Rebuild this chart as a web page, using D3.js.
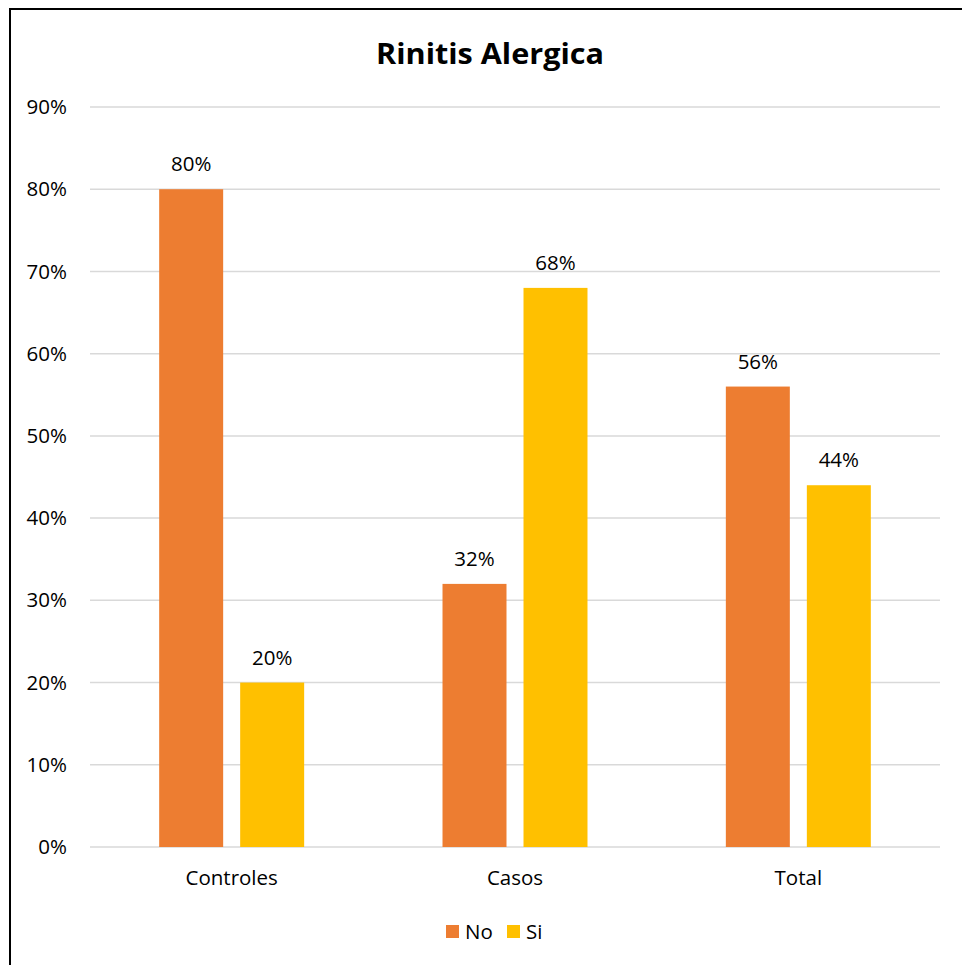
<!DOCTYPE html>
<html>
<head>
<meta charset="utf-8">
<script src="https://cdn.jsdelivr.net/npm/d3@7"></script>
<style>
  html, body { margin: 0; padding: 0; background: #fff; }
  svg { display: block; font-family: "Open Sans", sans-serif; }
</style>
</head>
<body>
<script>
// Rinitis alérgica: proporción No / Si por grupo
const categories = ["Controles", "Casos", "Total"];
const seriesNames = ["No", "Si"];
const noValues = [0.80, 0.32, 0.56];
const siValues = [0.20, 0.68, 0.44];
const yTicks = [0, 0.1, 0.2, 0.3, 0.4, 0.5, 0.6, 0.7, 0.8, 0.9];
const colors = ["#ED7D31", "#FFC000"];

const W = 962, H = 965;
const FONT = "'Open Sans', sans-serif";
const FS = 20.5;
const svg = d3.select("body").append("svg").attr("width", W).attr("height", H);

// outer chart frame
svg.append("rect")
  .attr("x", 10).attr("y", 9).attr("width", W + 20).attr("height", H + 20)
  .attr("fill", "#fff").attr("stroke", "#000").attr("stroke-width", 2);

const plot = { left: 90, right: 940, top: 107, bottom: 847 };

const x = d3.scaleBand().domain(categories).range([plot.left, plot.right]);
const x1 = d3.scaleBand().domain(seriesNames).range([0, x.bandwidth()])
  .paddingInner(0.21).paddingOuter(0.854);
const y = d3.scaleLinear().domain([0, 0.9]).range([plot.bottom, plot.top]);

// gridlines
svg.append("g").selectAll("line").data(yTicks).join("line")
  .attr("x1", plot.left).attr("x2", plot.right)
  .attr("y1", d => y(d)).attr("y2", d => y(d))
  .attr("stroke", "#D9D9D9").attr("stroke-width", 1.5);

// y axis labels
const yAxis = d3.axisLeft(y).tickValues(yTicks).tickFormat(d3.format(".0%")).tickSize(0).tickPadding(0);
const gy = svg.append("g").attr("transform", `translate(67,0)`).call(yAxis);
gy.select(".domain").remove();
gy.selectAll("text").attr("font-size", FS).attr("fill", "#000").attr("font-family", FONT);

// x axis labels
const xAxis = d3.axisBottom(x).tickSize(0).tickPadding(0);
const gx = svg.append("g").attr("transform", `translate(0,${plot.bottom + 23})`).call(xAxis);
gx.select(".domain").remove();
gx.selectAll("text").attr("font-size", FS).attr("fill", "#000").attr("font-family", FONT);

const rows = categories.map((c, i) => ({ cat: c, values: [noValues[i], siValues[i]] }));

const groups = svg.append("g").selectAll("g").data(rows).join("g")
  .attr("transform", d => `translate(${x(d.cat)},0)`);

groups.selectAll("rect").data(d => d.values.map((v, j) => ({ key: seriesNames[j], v, j })))
  .join("rect")
  .attr("x", d => x1(d.key))
  .attr("width", x1.bandwidth())
  .attr("y", d => y(d.v))
  .attr("height", d => y(0) - y(d.v))
  .attr("fill", d => colors[d.j]);

groups.selectAll("text.val").data(d => d.values.map((v, j) => ({ key: seriesNames[j], v })))
  .join("text").attr("class", "val")
  .attr("x", d => x1(d.key) + x1.bandwidth() / 2)
  .attr("y", d => y(d.v) - 18)
  .attr("text-anchor", "middle")
  .attr("font-size", FS)
  .attr("fill", "#000")
  .text(d => d3.format(".0%")(d.v));

// title
svg.append("text")
  .attr("x", 490).attr("y", 64)
  .attr("text-anchor", "middle")
  .attr("font-size", 28).attr("font-weight", "bold")
  .attr("fill", "#000")
  .attr("textLength", 228).attr("lengthAdjust", "spacingAndGlyphs")
  .text("Rinitis Alergica");

// legend
const legend = svg.append("g");
const legendItems = [{ name: "No", x: 446 }, { name: "Si", x: 507 }];
legendItems.forEach((it, i) => {
  legend.append("rect").attr("x", it.x).attr("y", 925).attr("width", 13).attr("height", 13).attr("fill", colors[i]);
  legend.append("text").attr("x", it.x + 19).attr("y", 939).attr("font-size", FS).attr("fill", "#000").text(it.name);
});
</script>
</body>
</html>
